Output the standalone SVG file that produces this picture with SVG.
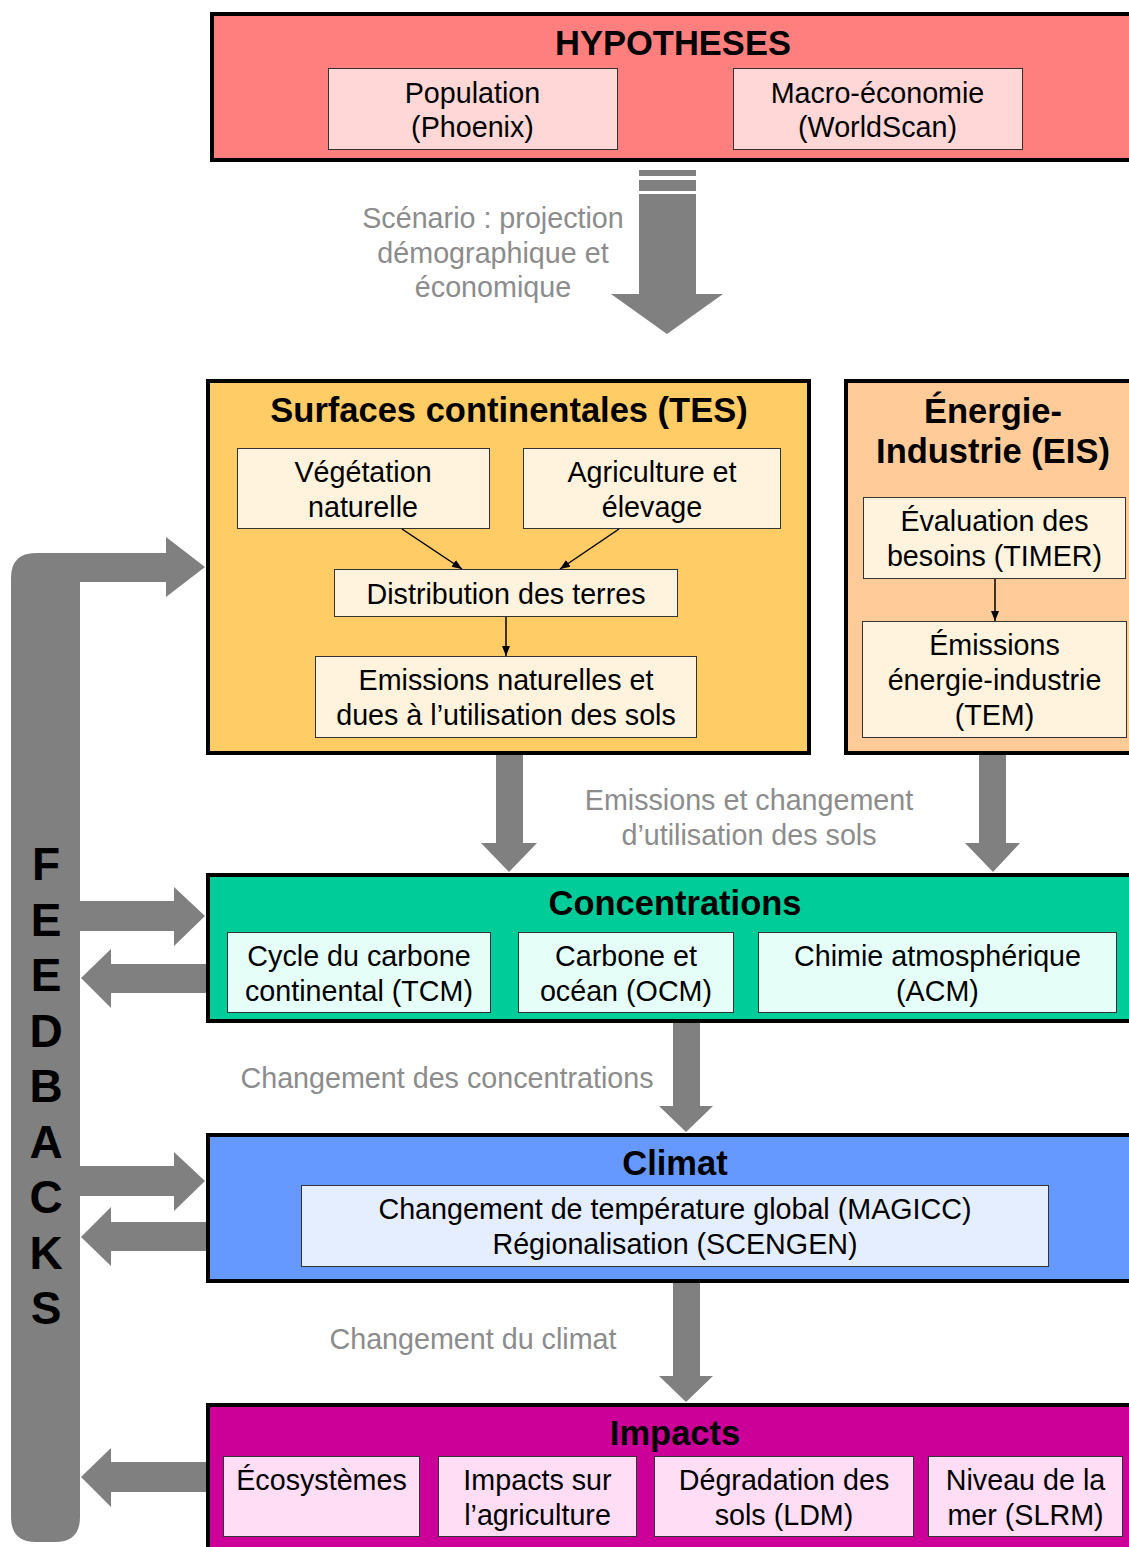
<svg xmlns="http://www.w3.org/2000/svg" width="1129" height="1547" viewBox="0 0 1129 1547">
<defs>
<marker id="ah" viewBox="0 0 10 10" refX="10" refY="5" markerWidth="10" markerHeight="10" markerUnits="userSpaceOnUse" orient="auto">
<path d="M0,1 L10,5 L0,9 Z" fill="#000"/>
</marker>
<style>
text{font-family:"Liberation Sans",Arial,sans-serif;text-anchor:middle;fill:#000}
.t{font-size:28.7px}
.h{font-size:34.5px;font-weight:bold}
.g{font-size:28.7px;fill:#8C8C8C}
.fb{font-size:46px;font-weight:bold}
.big{stroke:#000;stroke-width:4}
.sub{stroke:#333;stroke-width:1}
.ga{fill:#808080;stroke:none}
.thin{stroke:#000;stroke-width:1.5;fill:none;marker-end:url(#ah)}
</style>
</defs>
<rect width="1129" height="1547" fill="#fff"/>

<g id="connectors">
<rect class="ga" x="639" y="170" width="57" height="6"/>
<rect class="ga" x="639" y="180" width="57" height="11"/>
<path class="ga" d="M639,194 L696,194 L696,294 L723,294 L667,334 L611,294 L639,294 Z"/>
<path class="ga" d="M36,553 L166,553 L166,537 L205,567 L166,597 L166,582 L80,582 L80,1517 Q80,1542 55,1542 L36,1542 Q11,1542 11,1517 L11,578 Q11,553 36,553 Z"/>
<path class="ga" d="M496,755 L523,755 L523,843 L537,843 L509,872 L481,843 L496,843 Z"/>
<path class="ga" d="M979,755 L1006,755 L1006,843 L1020,843 L993,872 L965,843 L979,843 Z"/>
<path class="ga" d="M80,901 L174,901 L174,887 L205,916 L174,946 L174,931 L80,931 Z"/>
<path class="ga" d="M206,964 L111,964 L111,949 L81,978 L111,1008 L111,993 L206,993 Z"/>
<path class="ga" d="M673,1023 L700,1023 L700,1106 L713,1106 L686,1132 L659,1106 L673,1106 Z"/>
<path class="ga" d="M80,1166 L174,1166 L174,1152 L205,1181 L174,1211 L174,1196 L80,1196 Z"/>
<path class="ga" d="M206,1222 L111,1222 L111,1207 L81,1237 L111,1266 L111,1251 L206,1251 Z"/>
<path class="ga" d="M673,1283 L700,1283 L700,1376 L713,1376 L686,1402 L659,1376 L673,1376 Z"/>
<path class="ga" d="M206,1462 L111,1462 L111,1448 L81,1477 L111,1507 L111,1492 L206,1492 Z"/>
</g>

<g id="labels">
<text class="g" x="493" y="228">Scénario : projection</text>
<text class="g" x="493" y="263">démographique et</text>
<text class="g" x="493" y="297">économique</text>
<text class="g" x="749" y="810">Emissions et changement</text>
<text class="g" x="749" y="845">d’utilisation des sols</text>
<text class="g" x="447" y="1088">Changement des concentrations</text>
<text class="g" x="473" y="1349">Changement du climat</text>
</g>

<g id="feedbacks">
<text class="fb" x="46" y="880">F</text>
<text class="fb" x="46" y="935.5">E</text>
<text class="fb" x="46" y="991">E</text>
<text class="fb" x="46" y="1047">D</text>
<text class="fb" x="46" y="1102">B</text>
<text class="fb" x="46" y="1158">A</text>
<text class="fb" x="46" y="1213">C</text>
<text class="fb" x="46" y="1269">K</text>
<text class="fb" x="46" y="1324">S</text>
</g>

<g id="hypotheses">
<rect class="big" x="212" y="14" width="940" height="146" fill="#FF7F7F"/>
<text class="h" x="673" y="55">HYPOTHESES</text>
</g>
<g id="population">
<rect class="sub" x="328.5" y="68.5" width="289" height="81" fill="#FFD7D7"/>
<text class="t" x="472.5" y="103">Population</text>
<text class="t" x="472.5" y="137">(Phoenix)</text>
</g>
<g id="macro">
<rect class="sub" x="733.5" y="68.5" width="289" height="81" fill="#FFD7D7"/>
<text class="t" x="877.5" y="103">Macro-économie</text>
<text class="t" x="877.5" y="137">(WorldScan)</text>
</g>

<g id="tes">
<rect class="big" x="208" y="381" width="601" height="372" fill="#FFCC66"/>
<text class="h" x="509" y="422">Surfaces continentales (TES)</text>
</g>
<g id="vegetation">
<rect class="sub" x="237.5" y="448.5" width="252" height="80" fill="#FFF3DD"/>
<text class="t" x="363" y="482">Végétation</text>
<text class="t" x="363" y="517">naturelle</text>
</g>
<g id="agriculture">
<rect class="sub" x="523.5" y="448.5" width="257" height="80" fill="#FFF3DD"/>
<text class="t" x="652" y="482">Agriculture et</text>
<text class="t" x="652" y="517">élevage</text>
</g>
<g id="distribution">
<rect class="sub" x="334.5" y="569.5" width="343" height="47" fill="#FFF3DD"/>
<text class="t" x="506" y="604">Distribution des terres</text>
</g>
<g id="emissions-sols">
<rect class="sub" x="315.5" y="656.5" width="381" height="81" fill="#FFF3DD"/>
<text class="t" x="506" y="690">Emissions naturelles et</text>
<text class="t" x="506" y="725">dues à l’utilisation des sols</text>
</g>

<g id="eis">
<rect class="big" x="846" y="381" width="300" height="372" fill="#FFCC99"/>
<text class="h" x="993" y="423">Énergie-</text>
<text class="h" x="993" y="463">Industrie (EIS)</text>
</g>
<g id="timer">
<rect class="sub" x="863.5" y="497.5" width="262" height="81" fill="#FFF3DD"/>
<text class="t" x="994.5" y="531">Évaluation des</text>
<text class="t" x="994.5" y="566">besoins (TIMER)</text>
</g>
<g id="tem">
<rect class="sub" x="862.5" y="621.5" width="264" height="116" fill="#FFF3DD"/>
<text class="t" x="994.5" y="655">Émissions</text>
<text class="t" x="994.5" y="690">énergie-industrie</text>
<text class="t" x="994.5" y="725">(TEM)</text>
</g>

<g id="concentrations">
<rect class="big" x="208" y="875" width="940" height="146" fill="#00CC99"/>
<text class="h" x="675" y="915">Concentrations</text>
</g>
<g id="tcm">
<rect class="sub" x="227.5" y="932.5" width="263" height="80" fill="#E5FFF8"/>
<text class="t" x="359" y="966">Cycle du carbone</text>
<text class="t" x="359" y="1001">continental (TCM)</text>
</g>
<g id="ocm">
<rect class="sub" x="518.5" y="932.5" width="215" height="80" fill="#E5FFF8"/>
<text class="t" x="626" y="966">Carbone et</text>
<text class="t" x="626" y="1001">océan (OCM)</text>
</g>
<g id="acm">
<rect class="sub" x="758.5" y="932.5" width="358" height="80" fill="#E5FFF8"/>
<text class="t" x="937.5" y="966">Chimie atmosphérique</text>
<text class="t" x="937.5" y="1001">(ACM)</text>
</g>

<g id="climat">
<rect class="big" x="208" y="1135" width="940" height="146" fill="#6699FF"/>
<text class="h" x="675" y="1175">Climat</text>
</g>
<g id="magicc">
<rect class="sub" x="301.5" y="1185.5" width="747" height="81" fill="#E5EEFF"/>
<text class="t" x="675" y="1219">Changement de température global (MAGICC)</text>
<text class="t" x="675" y="1254">Régionalisation (SCENGEN)</text>
</g>

<g id="impacts">
<rect class="big" x="208" y="1405" width="940" height="160" fill="#CC0099"/>
<text class="h" x="675" y="1445">Impacts</text>
</g>
<g id="ecosystemes">
<rect class="sub" x="223.5" y="1456.5" width="196" height="80" fill="#FFDDF5"/>
<text class="t" x="321.5" y="1490">Écosystèmes</text>
</g>
<g id="agri-impacts">
<rect class="sub" x="438.5" y="1456.5" width="198" height="80" fill="#FFDDF5"/>
<text class="t" x="537.5" y="1490">Impacts sur</text>
<text class="t" x="537.5" y="1525">l’agriculture</text>
</g>
<g id="ldm">
<rect class="sub" x="654.5" y="1456.5" width="259" height="80" fill="#FFDDF5"/>
<text class="t" x="784" y="1490">Dégradation des</text>
<text class="t" x="784" y="1525">sols (LDM)</text>
</g>
<g id="slrm">
<rect class="sub" x="928.5" y="1456.5" width="194" height="80" fill="#FFDDF5"/>
<text class="t" x="1025.5" y="1490">Niveau de la</text>
<text class="t" x="1025.5" y="1525">mer (SLRM)</text>
</g>

<g id="inner-connectors">
<line class="thin" x1="402" y1="529" x2="462" y2="569"/>
<line class="thin" x1="619" y1="529" x2="560" y2="569"/>
<line class="thin" x1="506" y1="617" x2="506" y2="656"/>
<line class="thin" x1="995" y1="579" x2="995" y2="621"/>
</g>
</svg>
